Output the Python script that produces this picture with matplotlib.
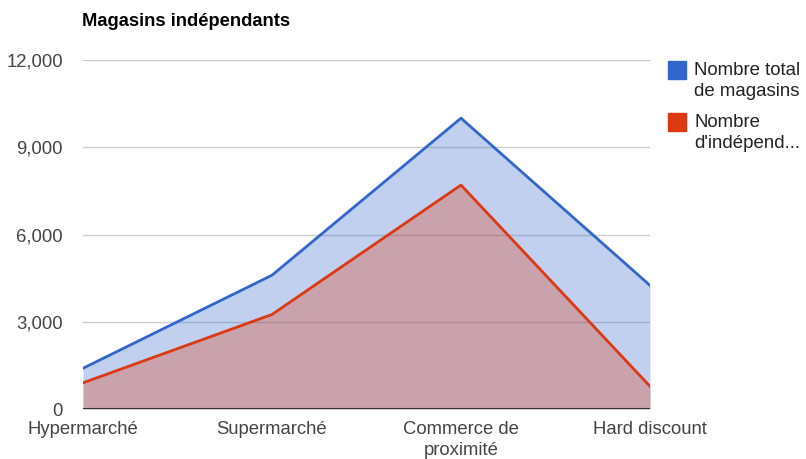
import matplotlib
matplotlib.use("Agg")
import matplotlib.pyplot as plt
from matplotlib.patches import Rectangle

categories = ["Hypermarché", "Supermarché", "Commerce de\nproximité", "Hard discount"]
total = [1400, 4600, 10000, 4250]
independants = [900, 3250, 7700, 780]
yticks = [0, 3000, 6000, 9000, 12000]
series_names = ["Nombre total\nde magasins", "Nombre\nd'indépend..."]

plt.rcParams['font.family'] = ['Liberation Sans', 'DejaVu Sans']

W, H = 806, 459
fig = plt.figure(figsize=(W / 100, H / 100), dpi=100)
ax = fig.add_axes([83 / W, (H - 409) / H, (650 - 83) / W, (409 - 60) / H])

x = list(range(len(categories)))
blue = "#3366cc"
red = "#dc3912"

ax.fill_between(x, 0, total, color=blue, alpha=0.3, linewidth=0, zorder=2)
ax.plot(x, total, color=blue, linewidth=2, zorder=4)
ax.fill_between(x, 0, independants, color=red, alpha=0.3, linewidth=0, zorder=3)
ax.plot(x, independants, color=red, linewidth=2, zorder=5)

ax.set_xlim(0, len(categories) - 1)
ax.set_ylim(0, 12000)
ax.set_yticks(yticks)
ax.set_yticklabels([f"{v:,}" for v in yticks])
ax.set_xticks(x)
ax.set_xticklabels(categories, linespacing=1.3)
ax.tick_params(axis="both", length=0, labelsize=13.3, colors="#444444")
ax.tick_params(axis="y", pad=14.5)
ax.tick_params(axis="x", pad=9)
ax.grid(axis="y", color="#cccccc", linewidth=1, zorder=1)
ax.set_axisbelow(True)
for s in ax.spines.values():
    s.set_visible(False)
ax.axhline(0, color="#333333", linewidth=1.5, zorder=6)

fig.text(82 / W, 1 - 21 / H, "Magasins indépendants", fontsize=13.2, fontweight="bold",
         color="black", va="center", ha="left")

# Legend
leg_items = [(blue, 61), (red, 113)]
for (c, ytop), name in zip(leg_items, series_names):
    fig.patches.append(Rectangle((668 / W, 1 - (ytop + 18) / H), 18 / W, 18 / H,
                                 transform=fig.transFigure, color=c))
    fig.text(694 / W, 1 - (ytop + 1) / H, name, fontsize=13.4, color="#222222",
             va="top", ha="left", linespacing=1.3)

fig.savefig("out.png", dpi=100)
